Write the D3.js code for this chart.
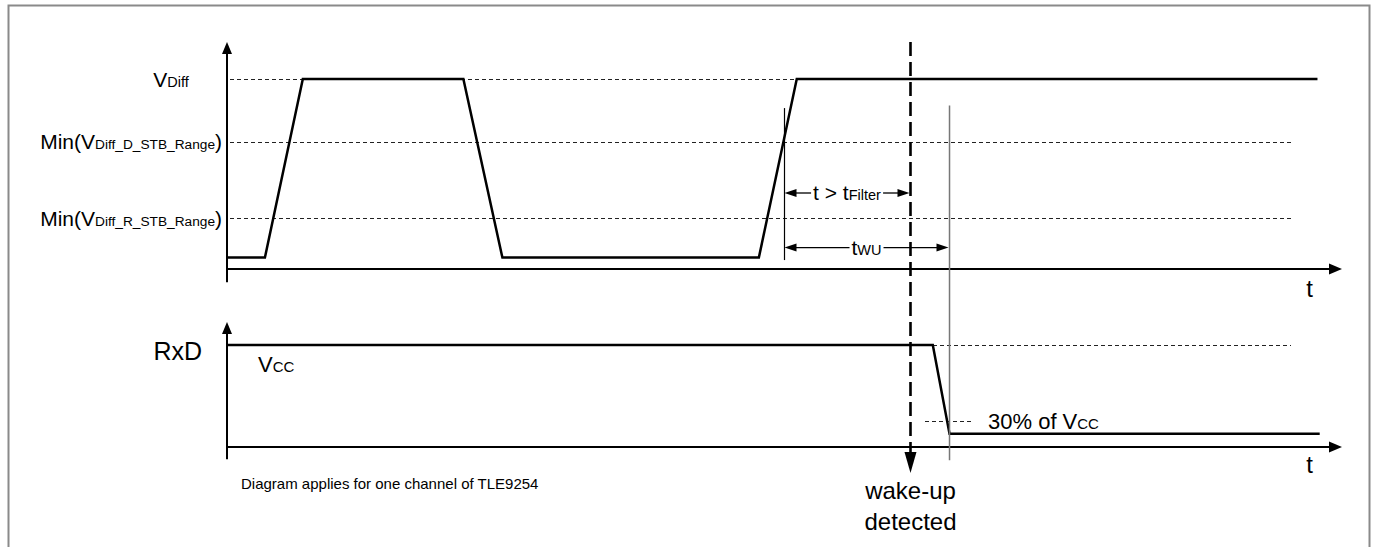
<!doctype html>
<html lang="en">
    <head>
        <meta charset="UTF-8" />
        <title>Wake-up timing</title>
        <script src="https://d3js.org/d3.v7.min.js"></script>
        <style>
            body {
                margin: 0;
                background: #fff;
                font-family: "Liberation Sans", Arial, sans-serif;
            }
            .dash {
                shape-rendering: crispEdges;
            }
        </style>
    </head>
    <body>
        <svg id="chart" width="1375" height="547"></svg>
        <script>
            // time in arbitrary units (0..100), levels relative to V_Diff / V_CC
            const busTime = [0, 3.4, 6.8, 21.2, 24.7, 47.7, 51.1, 97.8];
            const busLevel = [0.06, 0.06, 1, 1, 0.06, 0.06, 1, 1];
            const rxdTime = [0, 63.3, 64.8, 98.0];
            const rxdLevel = [1, 1, 0.13, 0.13];

            const busLevelNames = [
                [["V", 21], ["Diff", 14.5]],
                [["Min(V", 21], ["Diff_D_STB_Range", 13.7], [")", 21]],
                [["Min(V", 21], ["Diff_R_STB_Range", 13.7], [")", 21]],
            ];
            const busLevelValues = [1, 0.668, 0.268];
            const busLevelEnds = [51.1, 95.4, 95.4];

            const filterStart = 50.0;
            const wakeUpTime = 61.3;
            const twuEnd = 64.8;
            const rxdThreshold = 0.25;

            const svg = d3.select("#chart");

            const x = d3.scaleLinear().domain([0, 100]).range([227, 1342]);
            const yBus = d3.scaleLinear().domain([0, 1]).range([269, 79]);
            const yRxd = d3.scaleLinear().domain([0, 1]).range([447, 345]);

            // frame
            svg.append("rect")
                .attr("x", 8.5)
                .attr("y", 5.5)
                .attr("width", 1361)
                .attr("height", 600)
                .attr("fill", "none")
                .attr("stroke", "#8a8a8a")
                .attr("stroke-width", 2);

            function label(g, parts, px, py, anchor) {
                const t = g
                    .append("text")
                    .attr("x", px)
                    .attr("y", py)
                    .attr("text-anchor", anchor || "start")
                    .attr("fill", "#000");
                parts.forEach(([s, size]) => {
                    t.append("tspan").attr("font-size", size).text(s);
                });
                return t;
            }

            function arrowHead(g, tipX, tipY, dir, len, half) {
                let pts;
                if (dir === "up")
                    pts = [[tipX, tipY], [tipX - half, tipY + len], [tipX + half, tipY + len]];
                else if (dir === "down")
                    pts = [[tipX, tipY], [tipX - half, tipY - len], [tipX + half, tipY - len]];
                else if (dir === "left")
                    pts = [[tipX, tipY], [tipX + len, tipY - half], [tipX + len, tipY + half]];
                else
                    pts = [[tipX, tipY], [tipX - len, tipY - half], [tipX - len, tipY + half]];
                g.append("path")
                    .attr("d", "M" + pts.map((p) => p.join(",")).join("L") + "Z")
                    .attr("fill", "#000");
            }

            const g = svg.append("g");

            // threshold dashed lines (bus)
            g.selectAll("line.lvl")
                .data(busLevelValues)
                .join("line")
                .attr("class", "lvl dash")
                .attr("x1", x(0.3))
                .attr("x2", (d, i) => x(busLevelEnds[i]))
                .attr("y1", (d) => yBus(d))
                .attr("y2", (d) => yBus(d))
                .attr("stroke", "#222")
                .attr("stroke-width", 1)
                .attr("stroke-dasharray", "4,3");

            // RxD dashed lines
            g.append("line")
                .attr("class", "dash")
                .attr("x1", x(rxdTime[1]))
                .attr("x2", x(95.4))
                .attr("y1", yRxd(1))
                .attr("y2", yRxd(1))
                .attr("stroke", "#222")
                .attr("stroke-dasharray", "4,3");
            g.append("line")
                .attr("class", "dash")
                .attr("x1", x(62.6))
                .attr("x2", x(67.0))
                .attr("y1", yRxd(rxdThreshold))
                .attr("y2", yRxd(rxdThreshold))
                .attr("stroke", "#222")
                .attr("stroke-dasharray", "4,3");

            // axes
            [[yBus, -0.07, 1.195], [yRxd, -0.12, 1.225]].forEach(([ys, lo, hi]) => {
                g.append("line")
                    .attr("x1", x(0)).attr("x2", x(0))
                    .attr("y1", ys(lo)).attr("y2", ys(hi) + 8)
                    .attr("stroke", "#000").attr("stroke-width", 2);
                arrowHead(g, x(0), ys(hi), "up", 12, 5);
                g.append("line")
                    .attr("x1", x(0)).attr("x2", x(100) - 8)
                    .attr("y1", ys(0)).attr("y2", ys(0))
                    .attr("stroke", "#000").attr("stroke-width", 2);
                arrowHead(g, x(100), ys(0), "right", 13, 5.5);
            });

            // signals
            const line = d3.line();
            g.append("path")
                .attr("d", line(busTime.map((t, i) => [x(t), yBus(busLevel[i])])))
                .attr("fill", "none")
                .attr("stroke", "#000")
                .attr("stroke-width", 2.5);
            g.append("path")
                .attr("d", line(rxdTime.map((t, i) => [x(t), yRxd(rxdLevel[i])])))
                .attr("fill", "none")
                .attr("stroke", "#000")
                .attr("stroke-width", 2.5);

            // marker lines
            g.append("line")
                .attr("x1", x(filterStart)).attr("x2", x(filterStart))
                .attr("y1", yBus(0.847)).attr("y2", yBus(0.047))
                .attr("stroke", "#000").attr("stroke-width", 1.2);
            g.append("line")
                .attr("x1", x(twuEnd)).attr("x2", x(twuEnd))
                .attr("y1", yBus(0.86)).attr("y2", yRxd(-0.13))
                .attr("stroke", "#777").attr("stroke-width", 1.5);

            // wake-up detected dashed line
            const wuTipY = yRxd(-0.255);
            g.append("line")
                .attr("x1", x(wakeUpTime)).attr("x2", x(wakeUpTime))
                .attr("y1", yBus(1.195)).attr("y2", wuTipY - 20)
                .attr("stroke", "#000").attr("stroke-width", 2.6)
                .attr("stroke-dasharray", "14,6");
            arrowHead(g, x(wakeUpTime), wuTipY, "down", 21, 6);

            // dimension arrows
            function dimension(x1, x2, yy, parts) {
                const t = label(g, parts, (x1 + x2) / 2, yy + 7, "middle");
                const bb = t.node().getBBox();
                g.append("line")
                    .attr("x1", x1 + 6).attr("x2", bb.x - 2)
                    .attr("y1", yy).attr("y2", yy)
                    .attr("stroke", "#000").attr("stroke-width", 1.3);
                g.append("line")
                    .attr("x1", bb.x + bb.width + 2).attr("x2", x2 - 6)
                    .attr("y1", yy).attr("y2", yy)
                    .attr("stroke", "#000").attr("stroke-width", 1.3);
                arrowHead(g, x1, yy, "left", 12, 4);
                arrowHead(g, x2, yy, "right", 12, 4);
            }
            dimension(x(filterStart), x(wakeUpTime) - 1, yBus(0.4), [["t > t", 21], ["Filter", 14.5]]);
            dimension(x(filterStart), x(twuEnd) - 1, yBus(0.113), [["t", 21], ["WU", 14.5]]);

            // level labels
            label(g, busLevelNames[0], 171, yBus(busLevelValues[0]) + 8, "middle");
            label(g, busLevelNames[1], 222, yBus(busLevelValues[1]) + 7, "end");
            label(g, busLevelNames[2], 222, yBus(busLevelValues[2]) + 8, "end");

            label(g, [["RxD", 25]], 202, yRxd(1) + 15, "end");
            label(g, [["V", 22], ["CC", 15]], 258, yRxd(1) + 27);
            label(g, [["30% of V", 22], ["CC", 15]], 988, yRxd(rxdThreshold) + 7);

            label(g, [["t", 24]], x(97.1), yBus(-0.147), "middle");
            label(g, [["t", 24]], x(97.1), yRxd(-0.255), "middle");

            label(g, [["wake-up", 24]], x(wakeUpTime), 499, "middle");
            label(g, [["detected", 24]], x(wakeUpTime), 530, "middle");

            label(g, [["Diagram applies for one channel of TLE9254", 15]], 241, 489);
        </script>
    </body>
</html>
